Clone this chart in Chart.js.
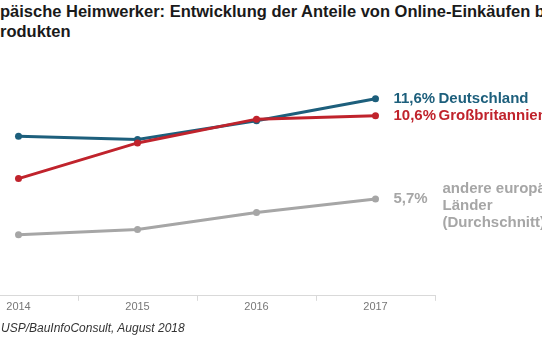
<!DOCTYPE html>
<html>
<head>
<meta charset="utf-8">
<script src="https://cdn.jsdelivr.net/npm/chart.js@4"></script>
<style>
  html, body { margin: 0; padding: 0; background: #fff; }
  body { width: 542px; height: 340px; overflow: hidden; position: relative; font-family: "Liberation Sans", Arial, sans-serif; }
  #title { position: absolute; left: 0; top: 1px; font-weight: bold; font-size: 16.5px; line-height: 20px; color: #1a1a1a; white-space: nowrap; }
  #source { position: absolute; left: 1px; top: 321px; font-style: italic; font-size: 12px; color: #333; white-space: nowrap; }
  #wrap { position: absolute; left: -45px; top: 0; width: 587px; height: 340px; }
</style>
</head>
<body>
<div id="title">päische Heimwerker: Entwicklung der Anteile von Online-Einkäufen bei<br>rodukten</div>
<div id="wrap"><canvas id="chart" width="587" height="340"></canvas></div>
<div id="source">USP/BauInfoConsult, August 2018</div>
<script>
// Daten (Anteil Online-Einkäufe in %)
const jahre = ['2014', '2015', '2016', '2017'];
const deutschland = [9.4, 9.2, 10.3, 11.6];
const grossbritannien = [6.9, 9.0, 10.4, 10.6];
const andereLaender = [3.6, 3.9, 4.9, 5.7];
const serienNamen = [['Deutschland'], ['Großbritannien'], ['andere europäische', 'Länder', '(Durchschnitt)']];

const farben = ['#1d5f7c', '#c0232c', '#a6a6a6'];

function fmt(v) {
    return v.toFixed(1).replace('.', ',') + '%';
}

// Beschriftung am Ende jeder Linie
const endLabels = {
    id: 'endLabels',
    afterDatasetsDraw(chart) {
        const ctx = chart.ctx;
        chart.data.datasets.forEach((ds, i) => {
            const meta = chart.getDatasetMeta(i);
            const p = meta.data[meta.data.length - 1];
            const wert = ds.data[ds.data.length - 1];
            const zeilen = serienNamen[i];
            ctx.save();
            ctx.fillStyle = ds.borderColor;
            ctx.font = 'bold 15px "Liberation Sans", Arial, sans-serif';
            ctx.textBaseline = 'middle';
            ctx.textAlign = 'left';
            ctx.fillText(fmt(wert), p.x + 18, p.y);
            const nameX = zeilen.length > 1 ? p.x + 67 : p.x + 63;
            const startY = zeilen.length > 1 ? p.y - 10 : p.y;
            zeilen.forEach((z, k) => ctx.fillText(z, nameX, startY + k * 17));
            ctx.restore();
        });
    }
};

const ctx = document.getElementById('chart').getContext('2d');

new Chart(ctx, {
    type: 'line',
    data: {
        labels: jahre,
        datasets: [
            { label: 'Deutschland', data: deutschland, order: 1 },
            { label: 'Großbritannien', data: grossbritannien, order: 0 },
            { label: 'andere europäische Länder', data: andereLaender, order: 2 }
        ].map((ds, i) => Object.assign(ds, {
            borderColor: farben[i],
            backgroundColor: farben[i],
            borderWidth: 3,
            pointRadius: 3.5,
            pointBorderWidth: 0,
            tension: 0,
            fill: false
        }))
    },
    options: {
        responsive: false,
        animation: false,
        layout: { padding: { left: 0, right: 107, top: 58, bottom: 26 } },
        plugins: {
            legend: { display: false },
            tooltip: { enabled: false }
        },
        scales: {
            x: {
                offset: true,
                grid: { display: true, drawOnChartArea: false, tickLength: 5, color: '#d9d9d9', offset: true },
                border: { color: '#d9d9d9' },
                ticks: { color: '#777', padding: 0, font: { size: 11, family: '"Liberation Sans", Arial, sans-serif' } }
            },
            y: {
                display: false,
                min: 0,
                max: 14
            }
        }
    },
    plugins: [endLabels]
});
</script>
</body>
</html>
